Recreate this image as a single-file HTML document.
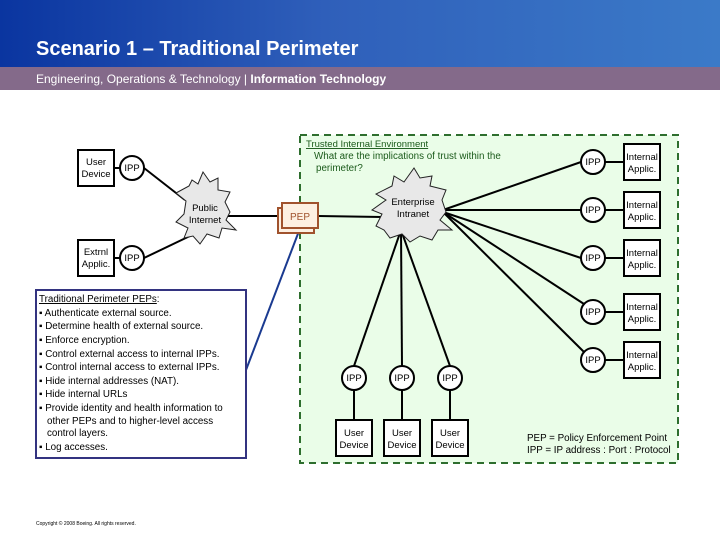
<!DOCTYPE html>
<html><head><meta charset="utf-8"><style>
html,body{margin:0;padding:0;width:720px;height:540px;overflow:hidden;background:#fff;font-family:"Liberation Sans",sans-serif}
</style></head><body>
<svg width="720" height="540" viewBox="0 0 720 540" xmlns="http://www.w3.org/2000/svg" font-family="Liberation Sans, sans-serif">
<defs>
<linearGradient id="hg" x1="0" x2="1" y1="0" y2="0">
<stop offset="0" stop-color="#0a35a0"/><stop offset="0.45" stop-color="#2f5fba"/><stop offset="1" stop-color="#3b7ac8"/>
</linearGradient>
</defs>
<rect x="0" y="0" width="720" height="67" fill="url(#hg)"/>
<rect x="0" y="67" width="720" height="23" fill="#846a8a"/>
<text x="36" y="55" font-size="20" font-weight="bold" fill="#fff">Scenario 1 – Traditional Perimeter</text>
<text x="36" y="83" font-size="12" fill="#fff">Engineering, Operations &amp; Technology | <tspan font-weight="bold">Information Technology</tspan></text>

<rect x="300" y="135" width="378" height="328" fill="#eafde8" stroke="#2e6e2e" stroke-width="2" stroke-dasharray="7,5"/>
<text x="306" y="147" font-size="9.5" fill="#1a5a1a" text-decoration="underline">Trusted Internal Environment</text>
<text x="314" y="159" font-size="9.8" fill="#1a5a1a">What are the implications of trust within the</text>
<text x="316" y="171" font-size="9.8" fill="#1a5a1a">perimeter?</text>

<g stroke="#000" stroke-width="2" fill="none">
<line x1="144" y1="168" x2="185" y2="200"/>
<line x1="144" y1="258" x2="192" y2="235"/>
<line x1="114" y1="168" x2="120" y2="168"/>
<line x1="114" y1="258" x2="120" y2="258"/>
<line x1="228" y1="216" x2="282" y2="216"/>
<line x1="318" y1="216" x2="382" y2="217"/>
<line x1="443" y1="210" x2="581" y2="162"/>
<line x1="443" y1="210" x2="581" y2="210"/>
<line x1="443" y1="212" x2="581" y2="258"/>
<line x1="443" y1="212" x2="584" y2="304"/>
<line x1="443" y1="212" x2="584" y2="352"/>
<line x1="401" y1="230" x2="354" y2="366"/>
<line x1="401" y1="230" x2="402" y2="366"/>
<line x1="401" y1="230" x2="450" y2="366"/>
<line x1="354" y1="390" x2="354" y2="420"/>
<line x1="402" y1="390" x2="402" y2="420"/>
<line x1="450" y1="390" x2="450" y2="420"/>
<line x1="605" y1="162" x2="624" y2="162"/>
<line x1="605" y1="210" x2="624" y2="210"/>
<line x1="605" y1="258" x2="624" y2="258"/>
<line x1="605" y1="312" x2="624" y2="312"/>
<line x1="605" y1="360" x2="624" y2="360"/>
</g>
<line x1="246" y1="370" x2="299" y2="231" stroke="#1a3a90" stroke-width="2"/>

<g fill="#e8e8e8" stroke="#222" stroke-width="1">
<path d="M186 201 L176 193 L189 186 L192 180 L198 184 L203 172 L210 182 L218 178 L218 190 L230 192 L225 202 L230 212 L226 220 L236 230 L222 228 L219 238 L207 234 L200 244 L193 236 L184 238 L188 228 L176 222 L184 214 Z"/>
<path d="M386 200 L376 194 L392 186 L394 176 L404 182 L414 168 L420 178 L432 176 L430 186 L446 190 L442 200 L446 212 L440 220 L452 230 L438 230 L432 240 L420 236 L410 242 L402 234 L390 238 L384 230 L376 226 L382 214 L372 210 Z"/>
</g>
<text x="205" y="211" font-size="9.5" text-anchor="middle">Public</text>
<text x="205" y="223" font-size="9.5" text-anchor="middle">Internet</text>
<text x="413" y="205" font-size="9.5" text-anchor="middle">Enterprise</text>
<text x="413" y="217" font-size="9.5" text-anchor="middle">Intranet</text>

<g fill="#fdf0e2" stroke="#a0522d" stroke-width="2">
<rect x="278" y="208" width="36" height="25"/>
<rect x="282" y="203" width="36" height="25"/>
</g>
<text x="300" y="220" font-size="10" text-anchor="middle" fill="#a0522d">PEP</text>

<g fill="#fff" stroke="#000" stroke-width="2">
<rect x="78" y="150" width="36" height="36"/>
<rect x="78" y="240" width="36" height="36"/>
<rect x="624" y="144" width="36" height="36"/>
<rect x="624" y="192" width="36" height="36"/>
<rect x="624" y="240" width="36" height="36"/>
<rect x="624" y="294" width="36" height="36"/>
<rect x="624" y="342" width="36" height="36"/>
<rect x="336" y="420" width="36" height="36"/>
<rect x="384" y="420" width="36" height="36"/>
<rect x="432" y="420" width="36" height="36"/>
<circle cx="132" cy="168" r="12"/>
<circle cx="132" cy="258" r="12"/>
<circle cx="593" cy="162" r="12"/>
<circle cx="593" cy="210" r="12"/>
<circle cx="593" cy="258" r="12"/>
<circle cx="593" cy="312" r="12"/>
<circle cx="593" cy="360" r="12"/>
<circle cx="354" cy="378" r="12"/>
<circle cx="402" cy="378" r="12"/>
<circle cx="450" cy="378" r="12"/>
</g>
<g font-size="9.5" text-anchor="middle">
<text x="96" y="165">User</text><text x="96" y="177">Device</text>
<text x="96" y="255">Extrnl</text><text x="96" y="267">Applic.</text>
<text x="132" y="171">IPP</text><text x="132" y="261">IPP</text>
<text x="593" y="165">IPP</text><text x="593" y="213">IPP</text><text x="593" y="261">IPP</text><text x="593" y="315">IPP</text><text x="593" y="363">IPP</text>
<text x="354" y="381">IPP</text><text x="402" y="381">IPP</text><text x="450" y="381">IPP</text>
<text x="354" y="436">User</text><text x="354" y="448">Device</text>
<text x="402" y="436">User</text><text x="402" y="448">Device</text>
<text x="450" y="436">User</text><text x="450" y="448">Device</text>
<text x="642" y="160">Internal</text><text x="642" y="172">Applic.</text>
<text x="642" y="208">Internal</text><text x="642" y="220">Applic.</text>
<text x="642" y="256">Internal</text><text x="642" y="268">Applic.</text>
<text x="642" y="310">Internal</text><text x="642" y="322">Applic.</text>
<text x="642" y="358">Internal</text><text x="642" y="370">Applic.</text>
</g>
<text x="527" y="441" font-size="9.8">PEP = Policy Enforcement Point</text>
<text x="527" y="453" font-size="9.8">IPP = IP address : Port : Protocol</text>

<rect x="36" y="290" width="210" height="168" fill="#fff" stroke="#333380" stroke-width="2"/>
<g font-size="9.8" fill="#000">
<text x="39" y="302"><tspan text-decoration="underline">Traditional Perimeter PEPs</tspan>:</text>
<text x="39" y="316">▪ Authenticate external source.</text>
<text x="39" y="329">▪ Determine health of external source.</text>
<text x="39" y="343">▪ Enforce encryption.</text>
<text x="39" y="357">▪ Control external access to internal IPPs.</text>
<text x="39" y="370">▪ Control internal access to external IPPs.</text>
<text x="39" y="384">▪ Hide internal addresses (NAT).</text>
<text x="39" y="397">▪ Hide internal URLs</text>
<text x="39" y="411">▪ Provide identity and health information to</text>
<text x="47" y="424">other PEPs and to higher-level access</text>
<text x="47" y="436">control layers.</text>
<text x="39" y="450">▪ Log accesses.</text>
</g>
<text x="36" y="525" font-size="5">Copyright © 2008 Boeing. All rights reserved.</text>
</svg>
</body></html>
